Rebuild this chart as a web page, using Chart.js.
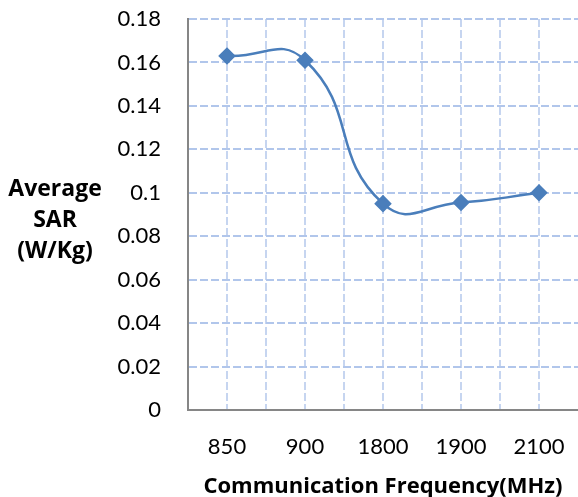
<!DOCTYPE html>
<html>
<head>
<meta charset="utf-8">
<script src="https://cdn.jsdelivr.net/npm/chart.js@4.4.0/dist/chart.umd.min.js"></script>
<style>
  html, body { margin: 0; padding: 0; background: #fff; }
</style>
</head>
<body>
<canvas id="sarChart" width="578" height="497"></canvas>
<script>
// Values
const frequencies = ['850', '900', '1800', '1900', '2100'];
const avgSar = [0.163, 0.161, 0.095, 0.0955, 0.1];
const yTitleLines = ['Average', 'SAR', '(W/Kg)'];
const xTitle = 'Communication Frequency(MHz)';

const blue = '#4a7ebb';
const gridBlue = '#b1c6eb';
const gridBlueLight = '#c6d5f0';

// Draw the y title horizontally on three lines, like Excel does
const yTitlePlugin = {
    id: 'yTitle',
    afterDraw(chart) {
        const ctx = chart.ctx;
        const mid = (chart.chartArea.top + chart.chartArea.bottom) / 2;
        ctx.save();
        ctx.font = 'bold 23px "Open Sans"';
        ctx.fillStyle = '#000';
        ctx.textAlign = 'center';
        ctx.textBaseline = 'middle';
        yTitleLines.forEach((line, i) => {
            ctx.fillText(line, 55, mid - 25 + i * 31);
        });
        ctx.restore();
    }
};

// Tick padding would otherwise push the plot area in from the top and right
function noEdgePadding(scale) {
    scale.paddingTop = 0;
    scale.paddingBottom = 0;
    scale.paddingLeft = 0;
    scale.paddingRight = 0;
}

new Chart(document.getElementById('sarChart'), {
    type: 'line',
    data: {
        datasets: [{
            data: avgSar.map((v, i) => ({ x: i, y: v })),
            borderColor: blue,
            backgroundColor: blue,
            borderWidth: 2.5,
            tension: 0.5,
            pointStyle: 'rectRot',
            pointRadius: 7,
            pointHoverRadius: 7,
            pointBackgroundColor: blue,
            pointBorderColor: blue
        }]
    },
    options: {
        responsive: false,
        animation: false,
        layout: { autoPadding: false, padding: { left: 110, top: 19, right: 0, bottom: 0 } },
        plugins: {
            legend: { display: false },
            tooltip: { enabled: false }
        },
        scales: {
            x: {
                type: 'linear',
                min: -0.5,
                max: 4.5,
                afterFit(scale) {
                    scale.height = 87;
                    noEdgePadding(scale);
                },
                ticks: {
                    stepSize: 0.5,
                    autoSkip: false,
                    maxRotation: 0,
                    padding: 24,
                    color: '#000',
                    font: { family: 'Lato', size: 22 },
                    callback: (v) => Number.isInteger(v) ? frequencies[v] : ''
                },
                grid: {
                    // no line on the outer right edge
                    color: (c) => (c.tick && c.tick.value > 4.25) ? 'rgba(0,0,0,0)' : gridBlueLight,
                    lineWidth: 2,
                    drawTicks: false
                },
                border: { display: true, color: '#868686', width: 2, dash: [8, 3] },
                title: {
                    display: true,
                    text: xTitle,
                    color: '#000',
                    font: { family: 'Open Sans', size: 22, weight: 'bold' },
                    padding: { top: 0, bottom: -3 }
                }
            },
            y: {
                min: 0,
                max: 0.18,
                afterFit(scale) {
                    scale.width = 78;
                    noEdgePadding(scale);
                },
                ticks: {
                    stepSize: 0.02,
                    padding: 27,
                    color: '#000',
                    font: { family: 'Lato', size: 22 },
                    callback: (v) => String(parseFloat(v.toFixed(2)))
                },
                grid: { color: gridBlue, lineWidth: 2, drawTicks: false },
                border: { display: true, color: '#868686', width: 2, dash: [8, 3] }
            }
        }
    },
    plugins: [yTitlePlugin]
});
</script>
</body>
</html>
